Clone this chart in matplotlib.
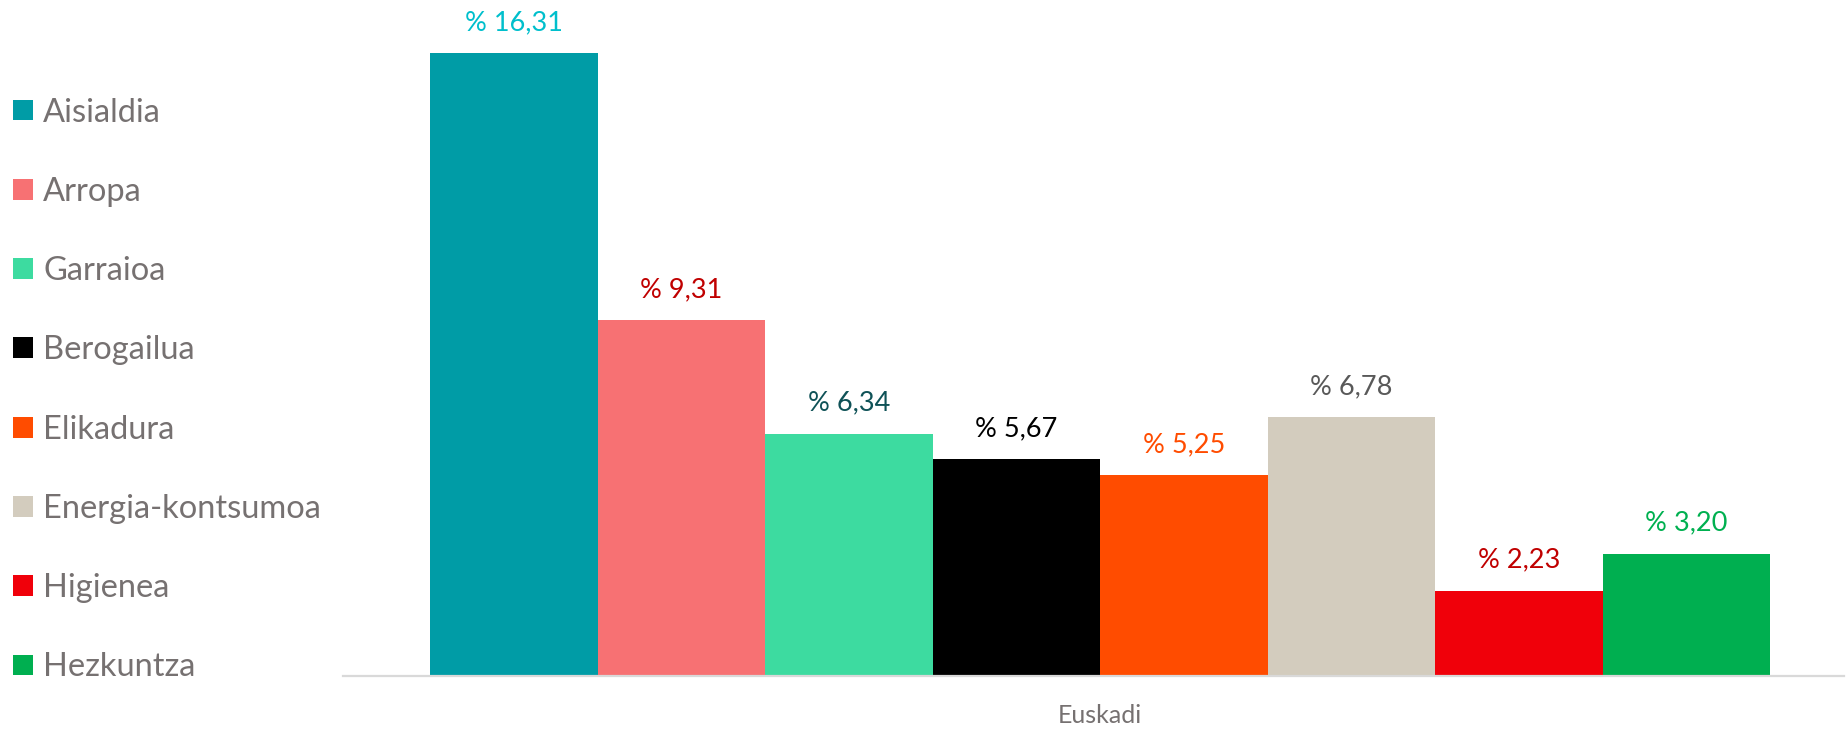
import matplotlib
matplotlib.use("Agg")
import matplotlib.pyplot as plt

categories = ["Aisialdia", "Arropa", "Garraioa", "Berogailua", "Elikadura",
              "Energia-kontsumoa", "Higienea", "Hezkuntza"]
values = [16.31, 9.31, 6.34, 5.67, 5.25, 6.78, 2.23, 3.20]
group_label = "Euskadi"

bar_colors = ["#009CA6", "#F77173", "#3DDBA0", "#000000", "#FF4C00",
              "#D3CCBE", "#F0000A", "#00AF50"]
label_colors = ["#00BFCC", "#C00000", "#0F5257", "#000000", "#FF4C00",
                "#595959", "#C00000", "#00B050"]

plt.rcParams['font.family'] = ['Lato', 'DejaVu Sans']
text_grey = "#767171"

fig = plt.figure(figsize=(18.46, 7.30), dpi=100)
ax = fig.add_axes([343/1846, 1 - 676/730, (1844 - 343)/1846, 676/730])

xs = list(range(len(values)))
for i, (v, c, lab) in enumerate(zip(values, bar_colors, categories)):
    b = ax.bar(xs[i], v, width=1.0, color=c, label=lab, zorder=2)
    ax.bar_label(b, labels=["% " + f"{v:.2f}".replace(".", ",")],
                 padding=13, color=label_colors[i], fontsize=19.5)

ax.set_xlim(-1.02, 7.94)
ax.set_ylim(0, 17.70)
ax.set_yticks([])
ax.set_xticks([3.5])
ax.set_xticklabels([group_label], fontsize=18, color=text_grey)
ax.tick_params(axis='x', length=0, pad=20)
for s in ["top", "right", "left"]:
    ax.spines[s].set_visible(False)
ax.spines["bottom"].set_color("#D9D9D9")
ax.spines["bottom"].set_linewidth(1.6)
ax.patch.set_alpha(0)

leg = fig.legend(loc='center left', bbox_to_anchor=(13/1846, 1 - 390/730),
                 frameon=False, fontsize=23.5, labelcolor=text_grey,
                 handlelength=0.61, handleheight=0.61, handletextpad=0.31,
                 labelspacing=1.51, borderpad=0, borderaxespad=0)

fig.savefig("out.png", dpi=100)
